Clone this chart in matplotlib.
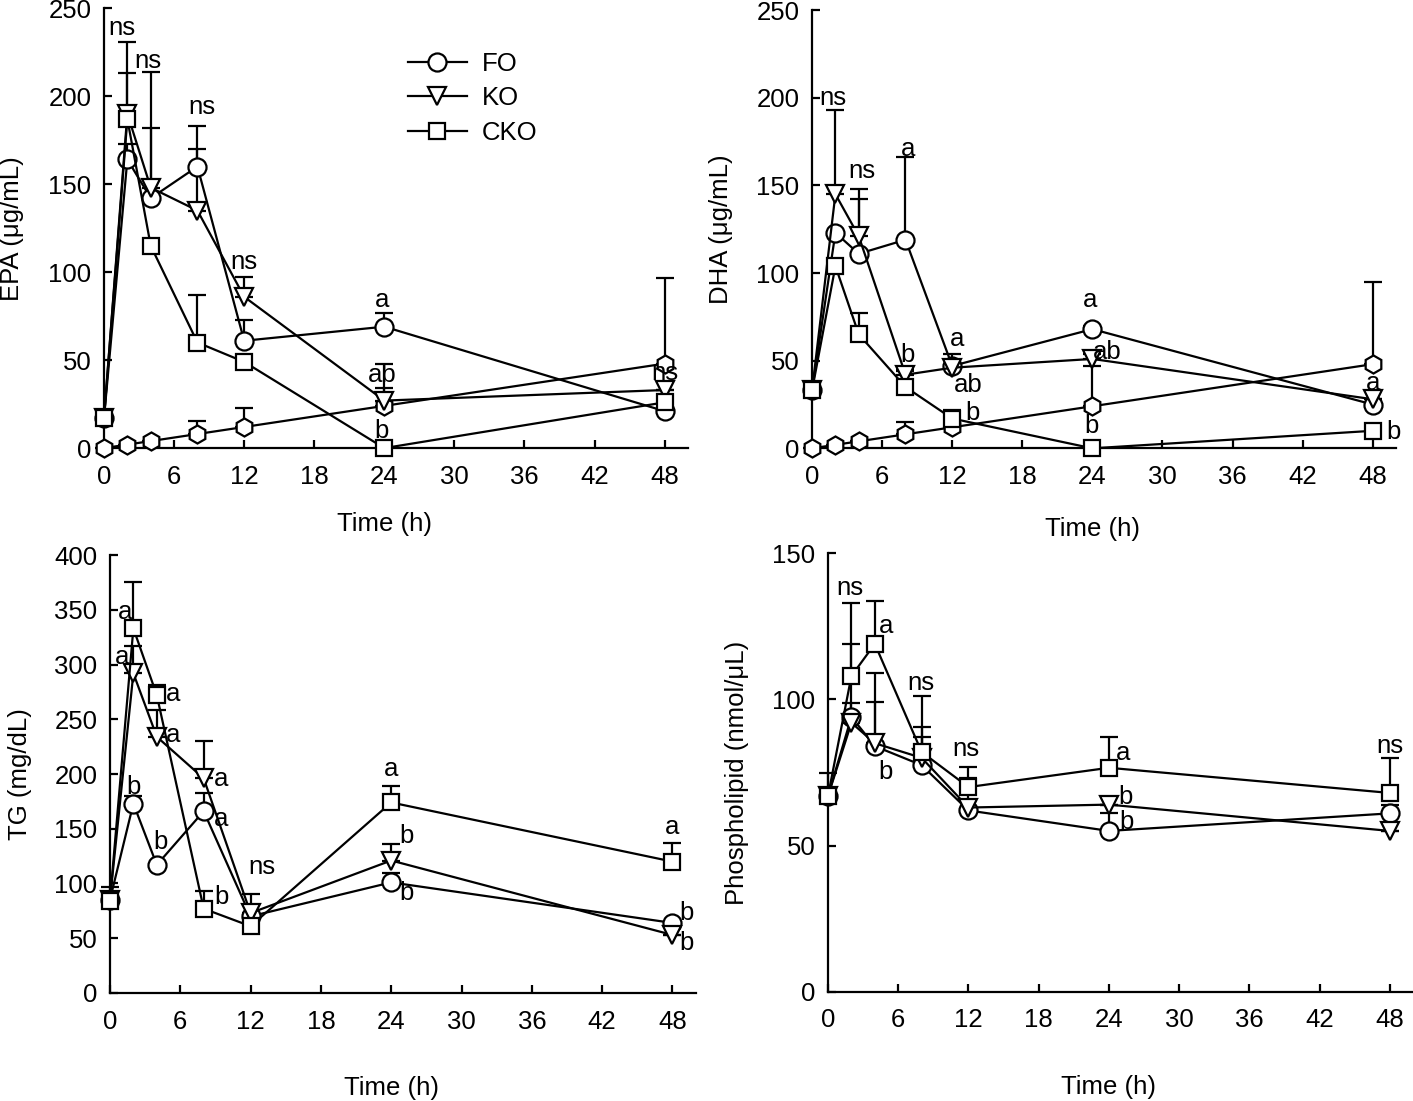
import numpy as np
import matplotlib.pyplot as plt

plt.rcParams['font.family'] = ['Liberation Sans', 'DejaVu Sans']
plt.rcParams['font.size'] = 18.5

time_h = [0, 2, 4, 8, 12, 24, 48]
x_ticks = [0, 6, 12, 18, 24, 30, 36, 42, 48]

# EPA (ug/mL)
epa_fo = [17, 164, 142, 160, 61, 69, 21]
epa_fo_err = [0, 9, 40, 23, 12, 7.5, 0]
epa_ko = [17, 190, 148, 135, 86, 27, 33]
epa_ko_err = [0, 23, 66, 35, 11, 21, 0]
epa_cko = [17, 187, 115, 60, 49, 0, 26]
epa_cko_err = [0, 44, 0, 27, 0, 0, 0]
epa_hex = [0, 2, 4, 8, 12, 24, 48]
epa_hex_err = [0, 0, 0, 7.5, 11, 10, 48.5]

# DHA (ug/mL)
dha_fo = [33, 123, 111, 119, 47, 68, 25]
dha_fo_err = [0, 0, 31, 47, 7, 2, 0]
dha_ko = [33, 145, 121, 42, 46, 51, 28]
dha_ko_err = [0, 48, 27, 3, 0, 3, 0]
dha_cko = [33, 104, 65, 35, 17, 0, 10]
dha_cko_err = [0, 0, 12, 9, 5, 0, 0]
dha_hex = [0, 2, 4, 8, 12, 24, 48]
dha_hex_err = [0, 0, 0, 7, 0, 23, 47]

# TG (mg/dL)
tg_fo = [85, 173, 117, 166, 70, 101, 64]
tg_fo_err = [12, 7, 0, 17, 0, 9, 0]
tg_ko = [85, 292, 234, 196, 73, 121, 53]
tg_ko_err = [0, 25, 24, 34, 17, 15, 0]
tg_cko = [84, 333, 272, 77, 61, 174, 120]
tg_cko_err = [0, 42, 9, 16, 0, 15, 17]

# Phospholipid (nmol/uL)
pl_fo = [67, 94, 84, 77.5, 62, 55, 61]
pl_fo_err = [0, 4.6, 15, 9.5, 0, 6, 3]
pl_ko = [67, 92, 85, 80, 63, 64, 55]
pl_ko_err = [0, 27, 24, 10.6, 10, 0, 0]
pl_cko = [67, 108, 119, 82, 70, 76.6, 68]
pl_cko_err = [7.7, 25, 14.6, 19, 7, 10.4, 12]

# significance letters (x, y, text)
epa_marks = [(1.5, 239, 'ns'), (3.8, 220, 'ns'), (8.4, 194, 'ns'), (12.0, 106, 'ns'),
             (23.8, 84, 'a'), (23.8, 41.5, 'ab'), (23.8, 10, 'b'), (48, 42.6, 'ns')]
dha_marks = [(1.8, 200, 'ns'), (4.3, 158.5, 'ns'), (8.2, 171, 'a'), (8.2, 53, 'b'),
             (12.4, 62.5, 'a'), (13.4, 36, 'ab'), (13.7, 20, 'b'),
             (23.8, 84.5, 'a'), (25.3, 55, 'ab'), (23.9, 13, 'b'),
             (48, 37, 'a'), (49.8, 9.5, 'b')]
tg_marks = [(1.3, 348, 'a'), (1.0, 307, 'a'), (2.0, 188, 'b'),
            (5.4, 273, 'a'), (5.4, 236, 'a'), (4.3, 138, 'b'),
            (9.5, 195, 'a'), (9.5, 159, 'a'), (9.5, 88, 'b'), (13, 115, 'ns'),
            (24.0, 205, 'a'), (25.3, 143, 'b'), (25.3, 91, 'b'),
            (48, 152, 'a'), (49.2, 73, 'b'), (49.2, 46, 'b')]
pl_marks = [(1.9, 138, 'ns'), (5.0, 125, 'a'), (4.9, 75, 'b'), (7.9, 105.6, 'ns'),
            (11.8, 83, 'ns'), (25.2, 81.6, 'a'), (25.4, 66.6, 'b'), (25.5, 58, 'b'),
            (48, 84, 'ns')]

LW = 1.6
FS = 18.5


def draw_series(ax, y, err, marker, ms, label=None):
    y = np.array(y, dtype=float)
    err = np.array(err, dtype=float)
    ax.errorbar(time_h, y, yerr=[np.zeros_like(err), err], fmt='none',
                ecolor='black', elinewidth=LW, capsize=6.5, capthick=LW,
                zorder=2, clip_on=False)
    ax.plot(time_h, y, color='black', lw=LW, marker=marker, ms=ms,
            mfc='white', mec='black', mew=LW, zorder=3, clip_on=False,
            label=label)


def style_axes(ax, ymax, ystep, ylabel, ylab_x, xlab_y):
    ax.set_xlim(0, 50)
    ax.set_ylim(0, ymax)
    ax.set_xticks(x_ticks)
    ax.set_yticks(np.arange(0, ymax + 1, ystep))
    for s in ['top', 'right']:
        ax.spines[s].set_visible(False)
    for s in ['left', 'bottom']:
        ax.spines[s].set_linewidth(LW)
    ax.tick_params(axis='both', direction='in', length=6, width=LW, labelsize=FS)
    ax.tick_params(axis='y', pad=9)
    ax.tick_params(axis='x', pad=12)
    ax.set_ylabel(ylabel, fontsize=FS, va='center')
    ax.yaxis.set_label_coords(ylab_x, 0.5)
    ax.set_xlabel('Time (h)', fontsize=FS, va='center')
    ax.xaxis.set_label_coords(24 / 50, xlab_y)


def add_marks(ax, marks):
    for x, y, s in marks:
        ax.text(x, y, s, ha='center', va='center', fontsize=FS, zorder=5)


fig = plt.figure(figsize=(14.13, 11.01), dpi=100)

ax1 = fig.add_axes([0.0736, 0.593, 0.4133, 0.3996])
draw_series(ax1, epa_hex, epa_hex_err, 'h', 13)
draw_series(ax1, epa_fo, epa_fo_err, 'o', 13, 'FO')
draw_series(ax1, epa_ko, epa_ko_err, 'v', 13, 'KO')
draw_series(ax1, epa_cko, epa_cko_err, 's', 12, 'CKO')
style_axes(ax1, 250, 50, 'EPA (\u03bcg/mL)', -0.158, -0.173)
add_marks(ax1, epa_marks)
ax1.legend(loc='upper left', bbox_to_anchor=(0.52, 0.9), frameon=False,
           borderpad=0, borderaxespad=0, handlelength=2.3, handletextpad=0.6,
           labelspacing=0.4, numpoints=1, fontsize=FS)

ax2 = fig.add_axes([0.5747, 0.5928, 0.4133, 0.398])
draw_series(ax2, dha_hex, dha_hex_err, 'h', 13)
draw_series(ax2, dha_fo, dha_fo_err, 'o', 13)
draw_series(ax2, dha_ko, dha_ko_err, 'v', 13)
draw_series(ax2, dha_cko, dha_cko_err, 's', 12)
style_axes(ax2, 250, 50, 'DHA (\u03bcg/mL)', -0.156, -0.184)
add_marks(ax2, dha_marks)

ax3 = fig.add_axes([0.0778, 0.0981, 0.4147, 0.3978])
draw_series(ax3, tg_fo, tg_fo_err, 'o', 13)
draw_series(ax3, tg_ko, tg_ko_err, 'v', 13)
draw_series(ax3, tg_cko, tg_cko_err, 's', 12)
style_axes(ax3, 400, 50, 'TG (mg/dL)', -0.154, -0.217)
add_marks(ax3, tg_marks)

ax4 = fig.add_axes([0.586, 0.0993, 0.4141, 0.3982])
draw_series(ax4, pl_fo, pl_fo_err, 'o', 13)
draw_series(ax4, pl_ko, pl_ko_err, 'v', 13)
draw_series(ax4, pl_cko, pl_cko_err, 's', 12)
style_axes(ax4, 150, 50, 'Phospholipid (nmol/\u03bcL)', -0.155, -0.217)
add_marks(ax4, pl_marks)

fig.savefig('out.png', dpi=100)
